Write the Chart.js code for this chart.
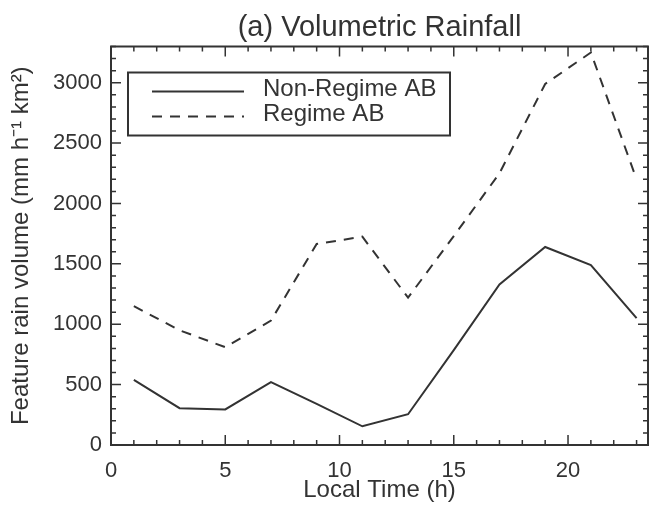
<!DOCTYPE html>
<html>
<head>
<meta charset="utf-8">
<script src="https://cdn.jsdelivr.net/npm/chart.js@4"></script>
<style>
  html, body { margin: 0; padding: 0; background: #fff; }
  canvas { display: block; }
</style>
</head>
<body>
<canvas id="c" width="651" height="511"></canvas>
<script>
// ---- data ----
const hours = [1, 3, 5, 7, 9, 11, 13, 15, 17, 19, 21, 23];
const nonRegimeAB = [540, 305, 295, 520, 340, 155, 255, 785, 1330, 1640, 1490, 1050];
const regimeAB = [1150, 950, 810, 1030, 1665, 1725, 1220, 1730, 2250, 2990, 3250, 2200];
const xTickValues = [0, 5, 10, 15, 20];
const yTickValues = [0, 500, 1000, 1500, 2000, 2500, 3000];
const seriesLabels = ['Non-Regime AB', 'Regime AB'];
const titleText = '(a) Volumetric Rainfall';
const xTitle = 'Local Time (h)';
const yTitle = 'Feature rain volume (mm h\u207B\u00B9 km\u00B2)';

const INK = '#333333';
const FONT = "'Liberation Sans', Arial, Helvetica, sans-serif";

function toPoints(xs, ys) { return xs.map((x, i) => ({ x: x, y: ys[i] })); }

// frame, inward ticks on all four sides, and the in-plot legend
const framePlugin = {
  id: 'idlFrame',
  afterDraw(chart) {
    const { ctx, chartArea: a, scales } = chart;
    const xs = scales.x, ys = scales.y;
    ctx.save();
    ctx.strokeStyle = INK;
    ctx.lineWidth = 2;
    ctx.strokeRect(a.left, a.top, a.right - a.left, a.bottom - a.top);
    ctx.lineWidth = 1.5;
    ctx.beginPath();
    for (let v = Math.ceil(xs.min); v <= xs.max; v += 1) {
      const px = xs.getPixelForValue(v);
      const len = (v % 5 === 0) ? 10 : 5;
      ctx.moveTo(px, a.bottom); ctx.lineTo(px, a.bottom - len);
      ctx.moveTo(px, a.top); ctx.lineTo(px, a.top + len);
    }
    for (let v = 0; v <= ys.max; v += 100) {
      const py = ys.getPixelForValue(v);
      const len = (v % 500 === 0) ? 10 : 5;
      ctx.moveTo(a.left, py); ctx.lineTo(a.left + len, py);
      ctx.moveTo(a.right, py); ctx.lineTo(a.right - len, py);
    }
    ctx.stroke();

    // legend
    const bx = a.left + 17, by = a.top + 26, bw = 322, bh = 63;
    ctx.lineWidth = 2;
    ctx.strokeRect(bx, by, bw, bh);
    chart.data.datasets.forEach((ds, i) => {
      const yy = by + 19 + i * 25;
      ctx.save();
      ctx.strokeStyle = ds.borderColor;
      ctx.lineWidth = ds.borderWidth;
      ctx.setLineDash(ds.borderDash || []);
      ctx.beginPath();
      ctx.moveTo(bx + 24, yy);
      ctx.lineTo(bx + 116, yy);
      ctx.stroke();
      ctx.restore();
      ctx.fillStyle = INK;
      ctx.font = '24px ' + FONT;
      ctx.textBaseline = 'middle';
      ctx.textAlign = 'left';
      ctx.fillText(ds.label, bx + 135, yy - 2);
    });
    ctx.restore();
  }
};

new Chart(document.getElementById('c'), {
  type: 'line',
  data: {
    datasets: [
      {
        label: seriesLabels[0],
        data: toPoints(hours, nonRegimeAB),
        borderColor: INK,
        borderWidth: 2,
        pointRadius: 0,
        tension: 0,
        fill: false
      },
      {
        label: seriesLabels[1],
        data: toPoints(hours, regimeAB),
        borderColor: INK,
        borderWidth: 2,
        borderDash: [10, 8],
        pointRadius: 0,
        tension: 0,
        fill: false
      }
    ]
  },
  options: {
    responsive: false,
    animation: false,
    devicePixelRatio: 1,
    layout: { padding: { left: 0, right: 3, top: 0, bottom: 0 } },
    plugins: {
      legend: { display: false },
      tooltip: { enabled: false },
      title: {
        display: true,
        text: titleText,
        fullSize: false,
        color: INK,
        font: { family: FONT, size: 29, weight: 'normal', lineHeight: 1.2 },
        padding: { top: 10.5, bottom: 1.2 }
      }
    },
    scales: {
      x: {
        type: 'linear',
        min: 0,
        max: 23.5,
        afterBuildTicks: (s) => { s.ticks = xTickValues.map(v => ({ value: v })); },
        afterFit: (s) => { s.height = 66; },
        grid: { display: false, drawTicks: false },
        border: { display: false },
        ticks: {
          color: INK,
          font: { family: FONT, size: 22 },
          padding: 13,
          maxRotation: 0,
          autoSkip: false,
          callback: (v) => String(v)
        },
        title: {
          display: true,
          text: xTitle,
          color: INK,
          font: { family: FONT, size: 24, lineHeight: 1.2 },
          padding: { top: 0, bottom: 6.6 }
        }
      },
      y: {
        type: 'linear',
        min: 0,
        max: 3300,
        afterBuildTicks: (s) => { s.ticks = yTickValues.map(v => ({ value: v })); },
        afterFit: (s) => { s.width = 111; },
        grid: { display: false, drawTicks: false },
        border: { display: false },
        ticks: {
          color: INK,
          font: { family: FONT, size: 22 },
          padding: 9,
          autoSkip: false,
          callback: (v) => String(v)
        },
        title: {
          display: true,
          text: yTitle,
          color: INK,
          font: { family: FONT, size: 24, lineHeight: 1.2 },
          padding: { top: 6.6, bottom: 0 }
        }
      }
    }
  },
  plugins: [framePlugin]
});
</script>
</body>
</html>
